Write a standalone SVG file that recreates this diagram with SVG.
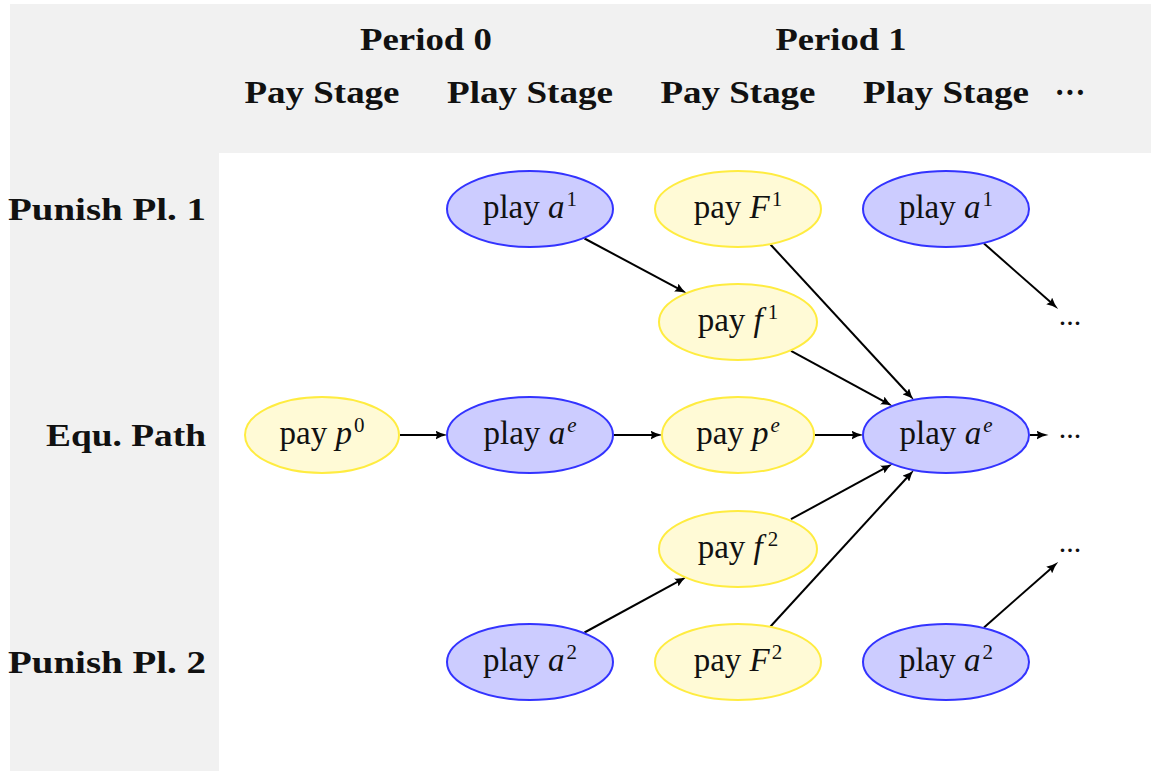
<svg xmlns="http://www.w3.org/2000/svg" width="1151" height="771" viewBox="0 0 1151 771">
  <defs>
    <style>
      .bg { fill: #f1f1f1; }
      .hdr { font-family: "Liberation Serif", serif; font-weight: bold; font-size: 31px; fill: #111; }
      .lbl { font-family: "Liberation Serif", serif; font-size: 33px; fill: #111; text-anchor: middle; }
      .sup { font-size: 21px; }
      .it { font-style: italic; }
      .dots { font-family: "Liberation Serif", serif; font-size: 30px; fill: #111; text-anchor: middle; }
      .play { fill: #ccccff; stroke: #3333ff; stroke-width: 2; }
      .pay { fill: #fffad6; stroke: #ffec40; stroke-width: 2; }
      .edge { stroke: #000; stroke-width: 2; fill: none; marker-end: url(#tip); }
    </style>
    <marker id="tip" viewBox="0 0 12 9" refX="5.5" refY="4.5" markerWidth="12" markerHeight="9" markerUnits="userSpaceOnUse" orient="auto">
      <path d="M12,4.5 Q5.5,5.6 0,9 L1.6,4.5 L0,0 Q5.5,3.4 12,4.5 Z" fill="#000"/>
    </marker>
  </defs>

  <!-- shaded header band and row-label column -->
  <rect class="bg" x="10" y="4" width="1141" height="149"/>
  <rect class="bg" x="10" y="4" width="209" height="767"/>

  <!-- column headers -->
  <g id="headers">
    <text class="hdr" x="426" y="50" text-anchor="middle" textLength="132" lengthAdjust="spacingAndGlyphs">Period 0</text>
    <text class="hdr" x="841" y="50" text-anchor="middle" textLength="131" lengthAdjust="spacingAndGlyphs">Period 1</text>
    <text class="hdr" x="322" y="103" text-anchor="middle" textLength="155" lengthAdjust="spacingAndGlyphs">Pay Stage</text>
    <text class="hdr" x="530" y="103" text-anchor="middle" textLength="166" lengthAdjust="spacingAndGlyphs">Play Stage</text>
    <text class="hdr" x="738" y="103" text-anchor="middle" textLength="155" lengthAdjust="spacingAndGlyphs">Pay Stage</text>
    <text class="hdr" x="946" y="103" text-anchor="middle" textLength="166" lengthAdjust="spacingAndGlyphs">Play Stage</text>
    <text class="hdr" x="1070" y="103" text-anchor="middle" font-size="34">···</text>
  </g>

  <!-- row labels -->
  <g id="row-labels">
    <text class="hdr" x="206" y="220" text-anchor="end" textLength="198" lengthAdjust="spacingAndGlyphs">Punish Pl. 1</text>
    <text class="hdr" x="206" y="446" text-anchor="end" textLength="160" lengthAdjust="spacingAndGlyphs">Equ. Path</text>
    <text class="hdr" x="206" y="673" text-anchor="end" textLength="198" lengthAdjust="spacingAndGlyphs">Punish Pl. 2</text>
  </g>

  <!-- connectors -->
  <g id="connectors">
    <line class="edge" x1="584.5" y1="238.5" x2="681.1" y2="290.1"/>
    <line class="edge" x1="770.5" y1="244.5" x2="909.6" y2="395.3"/>
    <line class="edge" x1="791" y1="350.8" x2="887.1" y2="403.1"/>
    <line class="edge" x1="400" y1="435" x2="441" y2="435"/>
    <line class="edge" x1="614" y1="435" x2="656" y2="435"/>
    <line class="edge" x1="815" y1="435" x2="857" y2="435"/>
    <line class="edge" x1="1030" y1="435" x2="1042" y2="435"/>
    <line class="edge" x1="791" y1="519.2" x2="887.1" y2="466.9"/>
    <line class="edge" x1="770.5" y1="626.5" x2="909.6" y2="474.7"/>
    <line class="edge" x1="584.5" y1="632.5" x2="681.1" y2="579.9"/>
    <line class="edge" x1="984" y1="243.5" x2="1053.3" y2="304.6"/>
    <line class="edge" x1="984" y1="627.5" x2="1053.3" y2="566.4"/>
  </g>

  <!-- period 0, pay stage -->
  <g id="pay-p0">
    <ellipse class="pay" cx="322" cy="435" rx="77" ry="38"/>
    <text class="lbl" x="322" y="444">pay <tspan class="it">p</tspan><tspan class="sup" dx="2" dy="-12">0</tspan></text>
  </g>

  <!-- period 0, play stage -->
  <g id="play-a1-0">
    <ellipse class="play" cx="530" cy="209" rx="83" ry="38"/>
    <text class="lbl" x="530" y="218">play <tspan class="it">a</tspan><tspan class="sup" dx="2" dy="-12">1</tspan></text>
  </g>
  <g id="play-ae-0">
    <ellipse class="play" cx="530" cy="435" rx="83" ry="38"/>
    <text class="lbl" x="530" y="444">play <tspan class="it">a</tspan><tspan class="sup it" dx="2" dy="-12">e</tspan></text>
  </g>
  <g id="play-a2-0">
    <ellipse class="play" cx="530" cy="662" rx="83" ry="38"/>
    <text class="lbl" x="530" y="671">play <tspan class="it">a</tspan><tspan class="sup" dx="2" dy="-12">2</tspan></text>
  </g>

  <!-- period 1, pay stage -->
  <g id="pay-F1">
    <ellipse class="pay" cx="738" cy="209" rx="83" ry="38"/>
    <text class="lbl" x="738" y="218">pay <tspan class="it">F</tspan><tspan class="sup" dx="2" dy="-12">1</tspan></text>
  </g>
  <g id="pay-f1">
    <ellipse class="pay" cx="738" cy="322" rx="79" ry="38"/>
    <text class="lbl" x="738" y="331">pay <tspan class="it">f</tspan><tspan class="sup" dx="5" dy="-12">1</tspan></text>
  </g>
  <g id="pay-pe">
    <ellipse class="pay" cx="738" cy="435" rx="76" ry="38"/>
    <text class="lbl" x="738" y="444">pay <tspan class="it">p</tspan><tspan class="sup it" dx="2" dy="-12">e</tspan></text>
  </g>
  <g id="pay-f2">
    <ellipse class="pay" cx="738" cy="549" rx="79" ry="38"/>
    <text class="lbl" x="738" y="558">pay <tspan class="it">f</tspan><tspan class="sup" dx="5" dy="-12">2</tspan></text>
  </g>
  <g id="pay-F2">
    <ellipse class="pay" cx="738" cy="662" rx="83" ry="38"/>
    <text class="lbl" x="738" y="671">pay <tspan class="it">F</tspan><tspan class="sup" dx="2" dy="-12">2</tspan></text>
  </g>

  <!-- period 1, play stage -->
  <g id="play-a1-1">
    <ellipse class="play" cx="946" cy="209" rx="83" ry="38"/>
    <text class="lbl" x="946" y="218">play <tspan class="it">a</tspan><tspan class="sup" dx="2" dy="-12">1</tspan></text>
  </g>
  <g id="play-ae-1">
    <ellipse class="play" cx="946" cy="435" rx="83" ry="38"/>
    <text class="lbl" x="946" y="444">play <tspan class="it">a</tspan><tspan class="sup it" dx="2" dy="-12">e</tspan></text>
  </g>
  <g id="play-a2-1">
    <ellipse class="play" cx="946" cy="662" rx="83" ry="38"/>
    <text class="lbl" x="946" y="671">play <tspan class="it">a</tspan><tspan class="sup" dx="2" dy="-12">2</tspan></text>
  </g>

  <!-- continuation markers -->
  <g id="cont-1"><text class="dots" x="1070" y="325">...</text></g>
  <g id="cont-e"><text class="dots" x="1070" y="438">...</text></g>
  <g id="cont-2"><text class="dots" x="1070" y="552">...</text></g>
</svg>
